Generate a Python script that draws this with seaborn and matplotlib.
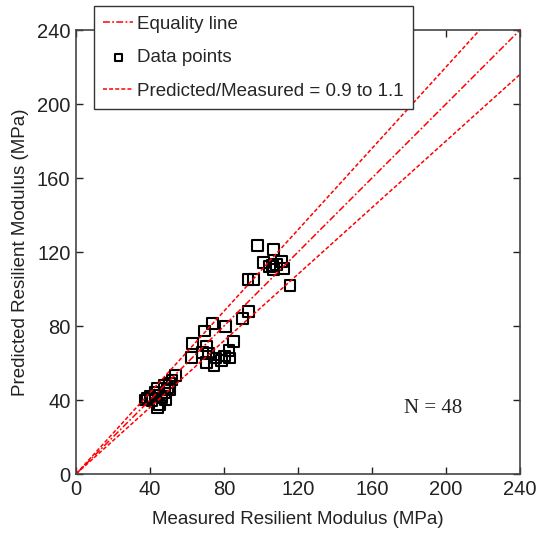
import numpy as np
import pandas as pd
import matplotlib
matplotlib.use("Agg")
import matplotlib.pyplot as plt
import seaborn as sns

# Measured vs. predicted resilient modulus (MPa)
measured = [
    # lower group
    38.9, 41.1, 43.2, 44.3, 45.4, 46.5, 48.1, 49.7, 50.8, 51.9,
    54.0, 42.7, 47.6, 44.3, 40.0, 48.6, 50.8, 37.3,
    # middle group
    74.0, 69.7, 81.0, 63.2, 62.2, 70.8, 71.4, 70.8, 74.6, 78.9,
    80.5, 82.7, 84.9, 83.2, 75.7, 68.6,
    # upper group
    98.0, 107.0, 101.5, 104.5, 108.5, 111.0, 112.0, 107.0, 106.0, 115.7,
    93.0, 96.2, 93.2, 90.1,
]
predicted = [
    41.1, 39.5, 42.7, 46.5, 37.3, 41.1, 43.8, 46.5, 49.2, 50.8,
    53.5, 44.3, 47.6, 35.7, 42.0, 40.0, 45.4, 40.0,
    81.6, 77.3, 79.5, 70.8, 63.2, 69.2, 64.9, 60.5, 58.9, 61.6,
    63.8, 67.0, 71.4, 62.7, 62.7, 65.9,
    123.5, 121.5, 114.5, 112.0, 113.0, 115.0, 111.2, 110.5, 112.5, 102.0,
    105.0, 105.0, 88.0, 84.2,
]
ratio_low, ratio_high = 0.9, 1.1
axis_limit = 240
tick_values = [0, 40, 80, 120, 160, 200, 240]

points = pd.DataFrame({"Measured": measured, "Predicted": predicted})
ref_x = np.array([0, axis_limit], dtype=float)

sns.set_style("ticks")
plt.rcParams["font.family"] = ["Liberation Sans", "DejaVu Sans"]

fig = plt.figure(figsize=(5.40, 5.37), dpi=100)
ax = fig.add_axes([0.1407, 0.1173, 0.8222, 0.8268])

red = "#ff0000"
dash = (2.6, 1.4)
dash_dot = (4.5, 1.5, 1.2, 1.5)

sns.lineplot(x=ref_x, y=ref_x, ax=ax, color=red, lw=1.1,
             label="Equality line")
ax.lines[-1].set_dashes(dash_dot)
sns.scatterplot(data=points, x="Measured", y="Predicted", ax=ax,
                marker="s", s=62, facecolor="none", edgecolor="black",
                linewidth=1.5, label="Data points")
sns.lineplot(x=ref_x, y=ratio_high * ref_x, ax=ax, color=red, lw=1.1,
             label="Predicted/Measured = 0.9 to 1.1")
ax.lines[-1].set_dashes(dash)
sns.lineplot(x=ref_x, y=ratio_low * ref_x, ax=ax, color=red, lw=1.1)
ax.lines[-1].set_dashes(dash)

ax.set_xlim(0, axis_limit)
ax.set_ylim(0, axis_limit)
ax.set_xticks(tick_values)
ax.set_yticks(tick_values)
ax.tick_params(direction="in", length=5, width=1, colors="#222222",
               labelsize=14.5, top=True, right=True, pad=4)
for side in ax.spines.values():
    side.set_color("#444444")
    side.set_linewidth(1.2)

ax.set_xlabel("Measured Resilient Modulus (MPa)", fontsize=13.5,
              color="#222222", labelpad=9)
ax.set_ylabel("Predicted Resilient Modulus (MPa)", fontsize=13.5,
              color="#222222", labelpad=6)

ax.text(193, 35.5, "N = 48", fontsize=15, ha="center", va="center",
        family=["Liberation Serif", "DejaVu Serif"], color="#222222")

handles, labels = ax.get_legend_handles_labels()
leg = ax.legend(handles, labels, loc="upper left",
                bbox_to_anchor=(0.0405, 1.054), borderaxespad=0,
                fontsize=13.5, frameon=True, fancybox=False,
                edgecolor="#333333", framealpha=1, handlelength=1.6,
                handletextpad=0.2, labelspacing=0.88, borderpad=0.5,
                markerscale=0.6)
leg.get_frame().set_linewidth(1.0)

fig.savefig("out.png", dpi=100)
